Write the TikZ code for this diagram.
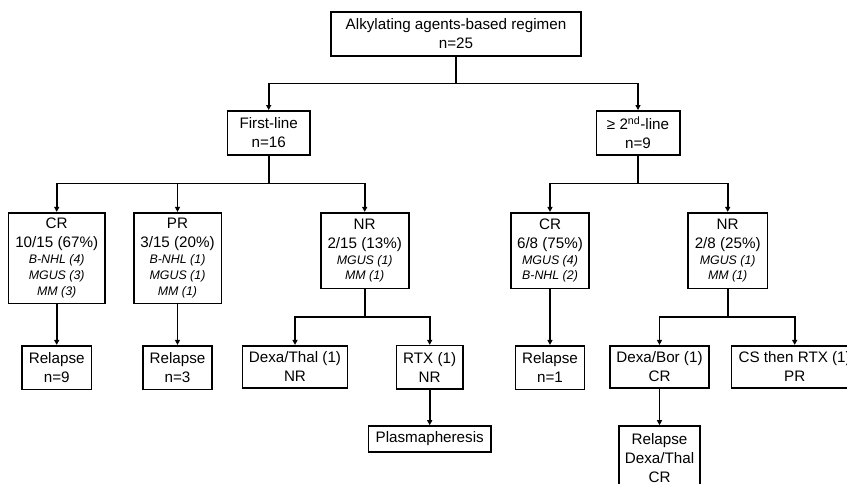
\documentclass[tikz,border=0pt]{standalone}
\usepackage{fontspec}
\setmainfont{Liberation Sans}
\usetikzlibrary{arrows.meta}
\newcommand\smit{\fontsize{12.4}{15.6}\selectfont\itshape}
\begin{document}
\begin{tikzpicture}[x=1pt,y=-1pt,
  box/.style={draw,line width=1.6pt,inner sep=0pt,align=center,font=\fontsize{15.2}{19}\selectfont},
  ln/.style={line width=1.6pt},
  arr/.style={line width=1.6pt,-{Triangle[length=5pt,width=5pt]}}]
\useasboundingbox (0,0) rectangle (847,483);
\clip (0,0) rectangle (847,483);
\fill[white] (0,0) rectangle (847,483);
% level 0
\node[box,minimum width=250pt,minimum height=44pt] (top) at (456,34) {Alkylating agents-based regimen\\n=25};
% level 1
\node[box,minimum width=82.7pt,minimum height=44.3pt] (first) at (268.7,133) {First-line\\n=16};
\node[box,minimum width=83.4pt,minimum height=44.3pt] (second) at (638,133) {≥ 2\textsuperscript{nd}-line\\n=9};
% level 2
\node[box,minimum width=96.7pt,minimum height=90.6pt] (cr1) at (56.7,258) {CR\\10/15 (67\%)\\[-3pt]{\smit B-NHL (4)}\\[-3.4pt]{\smit MGUS (3)}\\[-3.4pt]{\smit MM (3)}};
\node[box,minimum width=87.6pt,minimum height=90.6pt] (pr1) at (177.5,258) {PR\\3/15 (20\%)\\[-3pt]{\smit B-NHL (1)}\\[-3.4pt]{\smit MGUS (1)}\\[-3.4pt]{\smit MM (1)}};
\node[box,minimum width=88pt,minimum height=75.6pt] (nr1) at (364.7,250.5) {NR\\2/15 (13\%)\\[-3pt]{\smit MGUS (1)}\\[-3.4pt]{\smit MM (1)}};
\node[box,minimum width=78.3pt,minimum height=75.6pt] (cr2) at (550,250.5) {CR\\6/8 (75\%)\\[-3pt]{\smit MGUS (4)}\\[-3.4pt]{\smit B-NHL (2)}};
\node[box,minimum width=79.3pt,minimum height=75.6pt] (nr2) at (727.7,250.5) {NR\\2/8 (25\%)\\[-3pt]{\smit MGUS (1)}\\[-3.4pt]{\smit MM (1)}};
% level 3
\node[box,minimum width=69.6pt,minimum height=43.6pt] (rel1) at (56.7,367.5) {Relapse\\n=9};
\node[box,minimum width=69.3pt,minimum height=43.6pt] (rel2) at (177.5,367.5) {Relapse\\n=3};
\node[box,minimum width=105pt,minimum height=42pt] (dt) at (295,366.7) {Dexa/Thal (1)\\NR};
\node[box,minimum width=66.6pt,minimum height=43.3pt] (rtx) at (429.7,367.3) {RTX (1)\\NR};
\node[box,minimum width=69pt,minimum height=43.6pt] (rel3) at (550,367.5) {Relapse\\n=1};
\node[box,minimum width=99.3pt,minimum height=42pt] (db) at (659.5,366.7) {Dexa/Bor (1)\\CR};
\node[box,minimum width=126.7pt,minimum height=42pt] (cs) at (794.7,366.7) {CS then RTX (1)\\PR};
% level 4
\node[box,minimum width=122.7pt,minimum height=26pt] (plasma) at (429.7,439) {Plasmapheresis};
\node[box,minimum width=81.3pt,minimum height=64pt] (rdt) at (659.5,458) {Relapse\\Dexa/Thal\\CR};
% junctions
\coordinate (j1) at (456,83.3);
\coordinate (j2) at (268.7,183.3);
\coordinate (j3) at (638,183.3);
\coordinate (j4) at (364.7,316.7);
\coordinate (j5) at (727.7,316.7);
% connectors
\draw[ln] (top) -- (j1);
\draw[arr] (j1) -| (first.north);
\draw[arr] (j1) -| (second.north);
\draw[ln] (first) -- (j2);
\draw[arr] (j2) -| (cr1.north);
\draw[arr] (j2) -| (pr1.north);
\draw[arr] (j2) -| (nr1.north);
\draw[ln] (second) -- (j3);
\draw[arr] (j3) -| (cr2.north);
\draw[arr] (j3) -| (nr2.north);
\draw[arr] (cr1) -- (rel1);
\draw[arr] (pr1) -- (rel2);
\draw[arr] (cr2) -- (rel3);
\draw[ln] (nr1) -- (j4);
\draw[arr] (j4) -| (dt.north);
\draw[arr] (j4) -| (rtx.north);
\draw[arr] (rtx) -- (plasma);
\draw[ln] (nr2) -- (j5);
\draw[arr] (j5) -| (db.north);
\draw[arr] (j5) -| (cs.north);
\draw[arr] (db) -- (rdt);
\end{tikzpicture}
\end{document}
